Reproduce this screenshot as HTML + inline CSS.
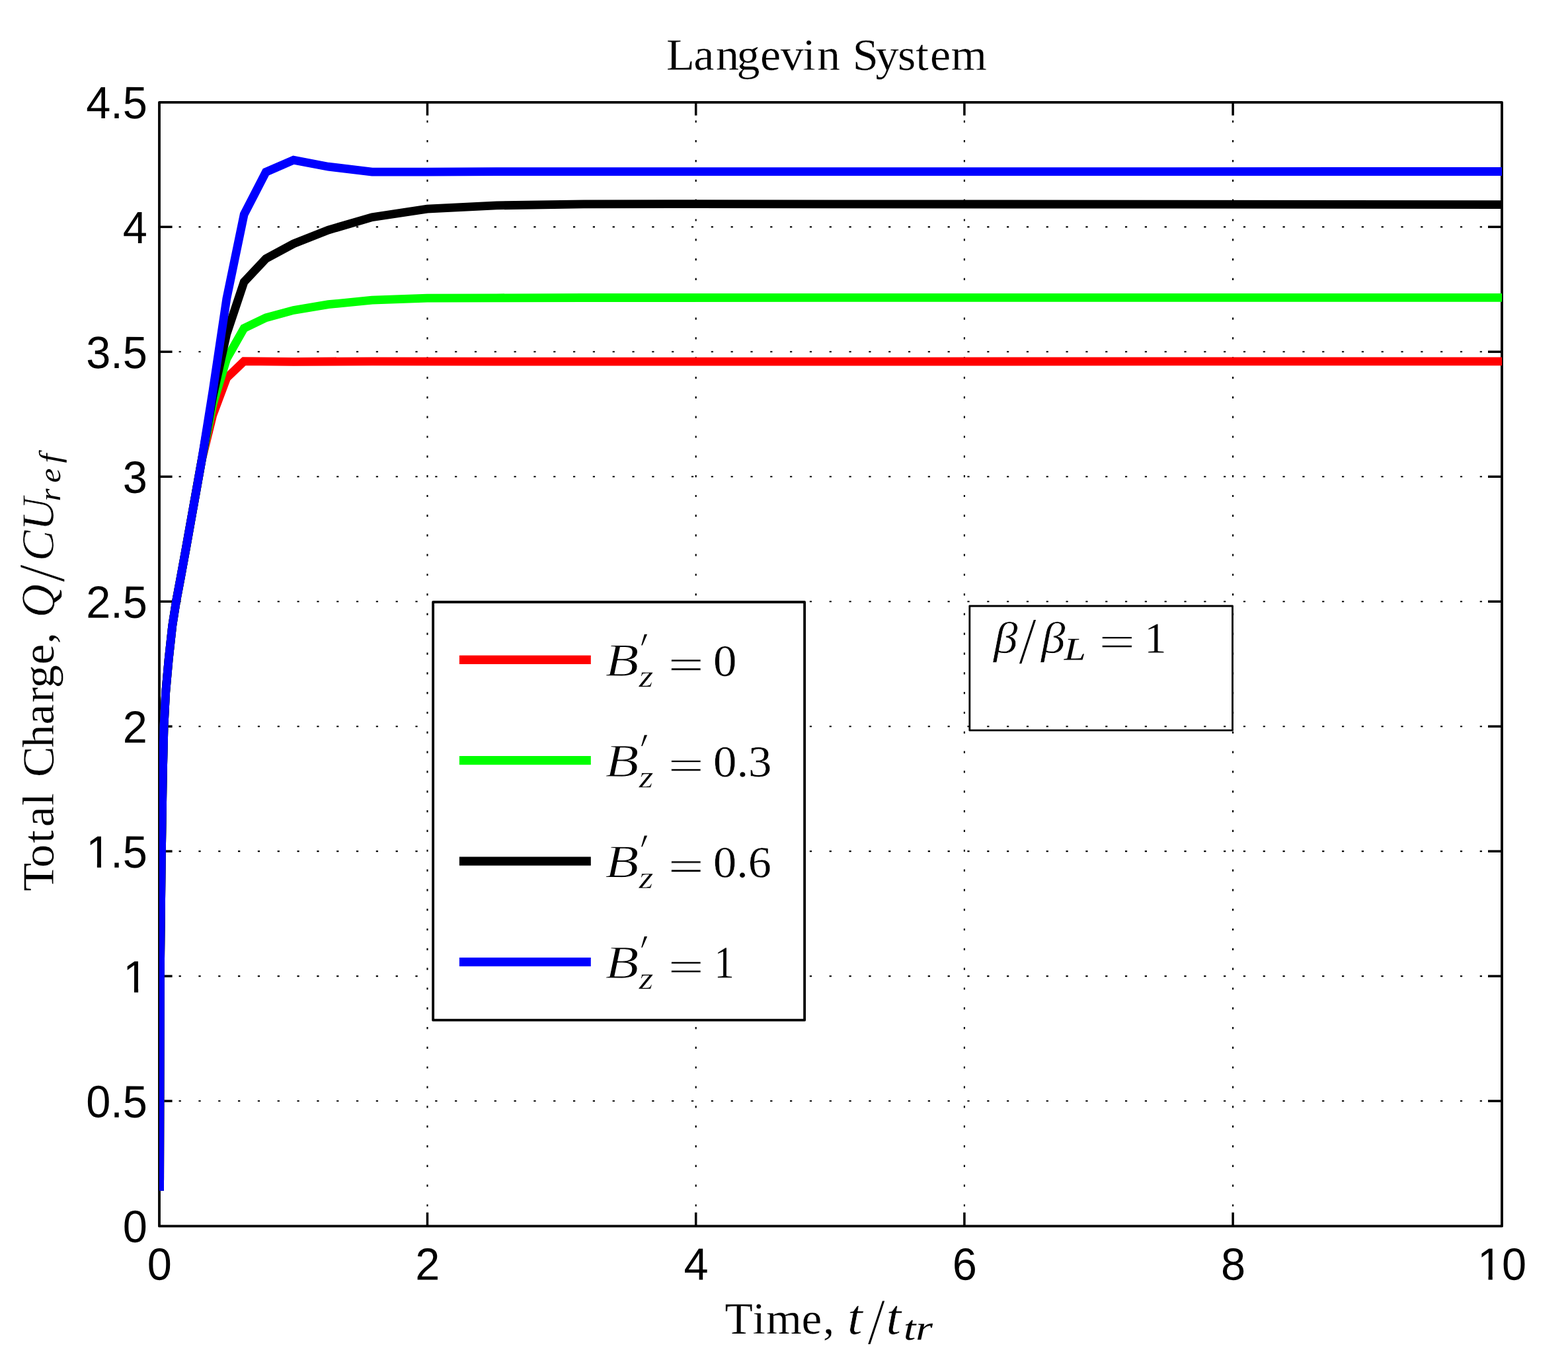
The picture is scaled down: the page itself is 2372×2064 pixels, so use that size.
<!DOCTYPE html>
<html lang="en"><head><meta charset="utf-8"><title>Langevin System</title>
<style>html,body{margin:0;padding:0;background:#fff}body{width:2372px;height:2064px;overflow:hidden}svg{display:block}text{fill:#000;font-kerning:none}</style>
</head><body>
<svg width="2372" height="2064" viewBox="0 0 2372 2064">
<rect x="0" y="0" width="2372" height="2064" fill="#fff"/>
<defs><clipPath id="ax"><rect x="241.00" y="146.80" width="2031.00" height="1716.60"/></clipPath></defs>
<g stroke="#000" stroke-width="2.10" fill="none">
<line x1="646.50" y1="182.30" x2="646.50" y2="1849.40" stroke-dasharray="3.20 26.62"/>
<line x1="1052.70" y1="182.30" x2="1052.70" y2="1849.40" stroke-dasharray="3.20 26.62"/>
<line x1="1458.90" y1="182.30" x2="1458.90" y2="1849.40" stroke-dasharray="3.20 26.62"/>
<line x1="1865.10" y1="182.30" x2="1865.10" y2="1849.40" stroke-dasharray="3.20 26.62"/>
<line x1="270.60" y1="1666.04" x2="2266.00" y2="1666.04" stroke-dasharray="3.20 26.62"/>
<line x1="270.60" y1="1477.09" x2="2266.00" y2="1477.09" stroke-dasharray="3.20 26.62"/>
<line x1="270.60" y1="1288.13" x2="2266.00" y2="1288.13" stroke-dasharray="3.20 26.62"/>
<line x1="270.60" y1="1099.18" x2="2266.00" y2="1099.18" stroke-dasharray="3.20 26.62"/>
<line x1="270.60" y1="910.22" x2="2266.00" y2="910.22" stroke-dasharray="3.20 26.62"/>
<line x1="270.60" y1="721.27" x2="2266.00" y2="721.27" stroke-dasharray="3.20 26.62"/>
<line x1="270.60" y1="532.31" x2="2266.00" y2="532.31" stroke-dasharray="3.20 26.62"/>
<line x1="270.60" y1="343.36" x2="2266.00" y2="343.36" stroke-dasharray="3.20 26.62"/>
</g>
<g stroke="#000" stroke-width="3.85" fill="none" stroke-linejoin="round">
<rect x="241.00" y="154.80" width="2031.00" height="1700.60"/>
</g>
<g stroke="#000" stroke-width="3.5" fill="none" stroke-linecap="butt">
<line x1="646.50" y1="154.80" x2="646.50" y2="174.70"/>
<line x1="646.50" y1="1855.40" x2="646.50" y2="1834.70"/>
<line x1="1052.70" y1="154.80" x2="1052.70" y2="174.70"/>
<line x1="1052.70" y1="1855.40" x2="1052.70" y2="1834.70"/>
<line x1="1458.90" y1="154.80" x2="1458.90" y2="174.70"/>
<line x1="1458.90" y1="1855.40" x2="1458.90" y2="1834.70"/>
<line x1="1865.10" y1="154.80" x2="1865.10" y2="174.70"/>
<line x1="1865.10" y1="1855.40" x2="1865.10" y2="1834.70"/>
<line x1="241.00" y1="1666.04" x2="260.60" y2="1666.04"/>
<line x1="2272.00" y1="1666.04" x2="2251.00" y2="1666.04"/>
<line x1="241.00" y1="1477.09" x2="260.60" y2="1477.09"/>
<line x1="2272.00" y1="1477.09" x2="2251.00" y2="1477.09"/>
<line x1="241.00" y1="1288.13" x2="260.60" y2="1288.13"/>
<line x1="2272.00" y1="1288.13" x2="2251.00" y2="1288.13"/>
<line x1="241.00" y1="1099.18" x2="260.60" y2="1099.18"/>
<line x1="2272.00" y1="1099.18" x2="2251.00" y2="1099.18"/>
<line x1="241.00" y1="910.22" x2="260.60" y2="910.22"/>
<line x1="2272.00" y1="910.22" x2="2251.00" y2="910.22"/>
<line x1="241.00" y1="721.27" x2="260.60" y2="721.27"/>
<line x1="2272.00" y1="721.27" x2="2251.00" y2="721.27"/>
<line x1="241.00" y1="532.31" x2="260.60" y2="532.31"/>
<line x1="2272.00" y1="532.31" x2="2251.00" y2="532.31"/>
<line x1="241.00" y1="343.36" x2="260.60" y2="343.36"/>
<line x1="2272.00" y1="343.36" x2="2251.00" y2="343.36"/>
</g>
<g clip-path="url(#ax)" fill="none" stroke-width="12.80" stroke-linejoin="miter" stroke-miterlimit="10" stroke-linecap="butt">
<polyline stroke="#ff0000" points="241.6,1801.8 242.5,1460.0 244.4,1289.0 246.3,1170.0 248.0,1099.3 250.7,1047.4 255.2,997.2 260.7,947.0 266.5,910.1 273.2,874.5 281.5,829.0 292.0,770.0 305.2,696.0 321.9,628.0 342.8,572.0 369.2,546.6 444.1,547.3 562.9,546.8 751.0,547.1 2272.0,546.9"/>
<polyline stroke="#00ff00" points="241.6,1801.8 242.5,1460.0 244.4,1289.0 246.3,1170.0 248.0,1099.3 250.7,1047.4 255.2,997.2 260.7,947.0 266.5,910.1 273.2,874.5 281.5,829.0 292.0,770.0 305.2,696.0 321.9,612.0 342.8,543.2 369.2,496.6 402.3,480.8 444.1,469.4 496.7,460.7 562.9,454.2 646.2,451.2 751.2,450.8 883.0,450.5 2272.0,450.4"/>
<polyline stroke="#000000" points="241.6,1801.8 242.5,1460.0 244.4,1289.0 246.3,1170.0 248.0,1099.3 250.7,1047.4 255.2,997.2 260.7,947.0 266.5,910.1 273.2,874.5 281.5,829.0 292.0,770.0 305.2,696.0 321.9,600.0 342.8,505.4 369.2,426.5 402.3,391.4 444.1,368.9 496.7,348.1 562.9,328.7 646.2,316.1 751.2,310.9 883.2,308.8 1049.6,308.6 1258.9,308.8 2272.0,309.6"/>
<polyline stroke="#0000ff" points="241.6,1801.8 242.5,1460.0 244.4,1289.0 246.3,1170.0 248.0,1099.3 250.7,1047.4 255.2,997.2 260.7,947.0 266.5,910.1 273.2,874.5 281.5,829.0 292.0,770.0 305.2,696.0 321.9,592.0 342.8,452.0 369.2,324.5 402.3,260.3 444.1,242.2 496.7,252.2 562.9,260.2 646.2,260.2 751.2,259.6 2272.0,259.5"/>
</g>
<defs><clipPath id="nofoot"><path clip-rule="evenodd" d="M-20 -80H140V30H-20Z M0.00 -5.98H16.62V6H0.00Z M22.81 -5.98H35.81V6H22.81Z"/></clipPath></defs>
<g font-family='"Liberation Sans", sans-serif' font-size="66.67">
<text transform="rotate(0.04 204.4 1879.6) translate(185.82 1879.60) scale(1 1.028)">0</text>
<text transform="rotate(0.04 176.6 1690.6) translate(130.22 1690.64) scale(1 1.028)">0.5</text>
<text transform="rotate(0.04 204.9 1501.7) translate(186.32 1501.69) scale(1 1.028)" clip-path="url(#nofoot)">1</text>
<text transform="rotate(0.04 176.6 1312.7) translate(130.22 1312.73) scale(1 1.028)" clip-path="url(#nofoot)">1.5</text>
<text transform="rotate(0.04 204.4 1123.8) translate(185.82 1123.78) scale(1 1.028)">2</text>
<text transform="rotate(0.04 176.6 934.8) translate(130.22 934.82) scale(1 1.028)">2.5</text>
<text transform="rotate(0.04 204.4 745.9) translate(185.82 745.87) scale(1 1.028)">3</text>
<text transform="rotate(0.04 176.6 556.9) translate(130.22 556.91) scale(1 1.028)">3.5</text>
<text transform="rotate(0.04 204.4 368.0) translate(185.82 367.96) scale(1 1.028)">4</text>
<text transform="rotate(0.04 176.6 179.0) translate(130.22 179.00) scale(1 1.028)">4.5</text>
<text transform="rotate(0.04 241.4 1936.5) translate(222.86 1936.55) scale(1 1.028)">0</text>
<text transform="rotate(0.04 646.9 1936.5) translate(628.36 1936.55) scale(1 1.028)">2</text>
<text transform="rotate(0.04 1053.1 1936.5) translate(1034.56 1936.55) scale(1 1.028)">4</text>
<text transform="rotate(0.04 1459.3 1936.5) translate(1440.76 1936.55) scale(1 1.028)">6</text>
<text transform="rotate(0.04 1865.5 1936.5) translate(1846.96 1936.55) scale(1 1.028)">8</text>
<text transform="rotate(0.04 2272.0 1936.5) translate(2234.92 1936.55) scale(1 1.028)" clip-path="url(#nofoot)">10</text>
</g>
<text transform="rotate(0.04 1250.8 105.7) translate(1009.85 105.70) scale(1.0383 1)" x="-1.82 38.04 70.36 100.83 135.03 164.58 196.96 217.82 252.65 269.53 302.95 335.36 361.64 382.46 412.81" y="0" font-family='"Liberation Serif", serif' font-size="67.50" stroke="#fff" stroke-width="0.30" stroke-linejoin="round">Langevin System</text>
<text transform="rotate(0.04 1176.3 2018.0) translate(1096.07 2018.00) scale(1.0268 1)" x="0.45 41.33 61.34 113.36 144.94" y="0" font-family='"Liberation Serif", serif' font-size="67.50" stroke="#fff" stroke-width="0.30" stroke-linejoin="round">Time,</text> <text transform="rotate(0.04 1295.9 2018.8) translate(1281.77 2018.80) scale(1.0879 1)" font-family='"Liberation Serif", serif' font-size="76.02" font-style="italic" stroke="#fff" stroke-width="0.60" stroke-linejoin="round">t</text><text transform="rotate(0.04 1325.7 2033.8) translate(1312.25 2033.77) scale(0.9631 1)" font-family='"Liberation Serif", serif' font-size="100.16" stroke="#fff" stroke-width="1.30" stroke-linejoin="round">/</text><text transform="rotate(0.04 1354.5 2018.8) translate(1340.37 2018.80) scale(1.0879 1)" font-family='"Liberation Serif", serif' font-size="76.02" font-style="italic" stroke="#fff" stroke-width="0.60" stroke-linejoin="round">t</text><text transform="rotate(0.04 1390.4 2027.3) translate(1366.90 2027.30) scale(1.2634 1)" font-family='"Liberation Serif", serif' font-size="52.22" font-style="italic">tr</text>
<text transform="rotate(0.04 80.8 1155.4) translate(80.80 1348.20) rotate(-90) scale(1.0361 1)" x="-0.25 34.18 69.93 93.46 124.47 149.40 166.28 209.05 242.87 275.00 296.15 330.51 360.91" y="0" font-family='"Liberation Serif", serif' font-size="67.50" stroke="#fff" stroke-width="0.30" stroke-linejoin="round">Total Charge,</text> <text transform="rotate(0.04 81.9 908.0) translate(81.92 934.44) rotate(-90) scale(0.9570 1)" font-family='"Liberation Serif", serif' font-size="72.67" font-style="italic" stroke="#fff" stroke-width="0.60" stroke-linejoin="round">Q</text><text transform="rotate(0.04 97.0 867.4) translate(96.97 880.95) rotate(-90) scale(0.9688 1)" font-family='"Liberation Serif", serif' font-size="100.68" stroke="#fff" stroke-width="1.30" stroke-linejoin="round">/</text><text transform="rotate(0.04 80.6 798.7) translate(80.60 846.70) rotate(-90) scale(1.0067 1)" x="-2.37 43.34" y="0" font-family='"Liberation Serif", serif' font-size="69.03" font-style="italic" stroke="#fff" stroke-width="0.60" stroke-linejoin="round">CU</text><text transform="rotate(0.04 91.1 716.6) translate(91.10 754.50) rotate(-90) scale(1.0731 1)" x="-3.77 22.34 50.37" y="0" font-family='"Liberation Serif", serif' font-size="45.97" font-style="italic">ref</text>
<rect x="655.15" y="911.00" width="561.95" height="632.70" fill="#fff" stroke="#000" stroke-width="3.8" stroke-linejoin="round"/>
<line x1="694.9" y1="998.30" x2="893.8" y2="998.30" stroke="#ff0000" stroke-width="13.20"/>
<text transform="rotate(0.04 940.5 1022.7) translate(915.53 1022.70) scale(1.1760 1)" font-family='"Liberation Serif", serif' font-size="70.86" font-style="italic" stroke="#fff" stroke-width="1.00" stroke-linejoin="round">B</text><text transform="rotate(0.04 974.5 1006.5) translate(961.39 1006.54) skewX(-12.0) scale(0.6319 1)" font-family='"Liberation Serif", serif' font-size="71.53">′</text><text transform="rotate(0.04 976.7 1039.2) translate(966.39 1039.25) scale(1.1746 1)" font-family='"Liberation Serif", serif' font-size="48.15" font-style="italic" stroke="#fff" stroke-width="0.50" stroke-linejoin="round">z</text> <text transform="rotate(0.04 1037.8 1027.9) translate(1010.57 1027.86) scale(1.4737 1)" font-family='"Liberation Serif", serif' font-size="65.40" stroke="#fff" stroke-width="0.65" stroke-linejoin="round">=</text> <text transform="rotate(0.04 1096.8 1022.8) translate(1079.05 1022.79) scale(1.0498 1)" font-family='"Liberation Serif", serif' font-size="67.43" stroke="#fff" stroke-width="0.30" stroke-linejoin="round">0</text>
<line x1="694.9" y1="1150.72" x2="893.8" y2="1150.72" stroke="#00ff00" stroke-width="13.20"/>
<text transform="rotate(0.04 940.5 1175.1) translate(915.53 1175.12) scale(1.1760 1)" font-family='"Liberation Serif", serif' font-size="70.86" font-style="italic" stroke="#fff" stroke-width="1.00" stroke-linejoin="round">B</text><text transform="rotate(0.04 974.5 1159.0) translate(961.39 1158.96) skewX(-12.0) scale(0.6319 1)" font-family='"Liberation Serif", serif' font-size="71.53">′</text><text transform="rotate(0.04 976.7 1191.7) translate(966.39 1191.67) scale(1.1746 1)" font-family='"Liberation Serif", serif' font-size="48.15" font-style="italic" stroke="#fff" stroke-width="0.50" stroke-linejoin="round">z</text> <text transform="rotate(0.04 1037.8 1180.3) translate(1010.57 1180.28) scale(1.4737 1)" font-family='"Liberation Serif", serif' font-size="65.40" stroke="#fff" stroke-width="0.65" stroke-linejoin="round">=</text> <text transform="rotate(0.04 1123.2 1174.9) translate(1079.06 1174.92) scale(1.0551 1)" font-family='"Liberation Serif", serif' font-size="66.99" stroke="#fff" stroke-width="0.30" stroke-linejoin="round">0.3</text>
<line x1="694.9" y1="1303.14" x2="893.8" y2="1303.14" stroke="#000000" stroke-width="13.20"/>
<text transform="rotate(0.04 940.5 1327.5) translate(915.53 1327.54) scale(1.1760 1)" font-family='"Liberation Serif", serif' font-size="70.86" font-style="italic" stroke="#fff" stroke-width="1.00" stroke-linejoin="round">B</text><text transform="rotate(0.04 974.5 1311.4) translate(961.39 1311.38) skewX(-12.0) scale(0.6319 1)" font-family='"Liberation Serif", serif' font-size="71.53">′</text><text transform="rotate(0.04 976.7 1344.1) translate(966.39 1344.09) scale(1.1746 1)" font-family='"Liberation Serif", serif' font-size="48.15" font-style="italic" stroke="#fff" stroke-width="0.50" stroke-linejoin="round">z</text> <text transform="rotate(0.04 1037.8 1332.7) translate(1010.57 1332.70) scale(1.4737 1)" font-family='"Liberation Serif", serif' font-size="65.40" stroke="#fff" stroke-width="0.65" stroke-linejoin="round">=</text> <text transform="rotate(0.04 1123.2 1327.3) translate(1079.08 1327.34) scale(1.0468 1)" font-family='"Liberation Serif", serif' font-size="66.99" stroke="#fff" stroke-width="0.30" stroke-linejoin="round">0.6</text>
<line x1="694.9" y1="1455.56" x2="893.8" y2="1455.56" stroke="#0000ff" stroke-width="13.20"/>
<text transform="rotate(0.04 940.5 1480.0) translate(915.53 1479.96) scale(1.1760 1)" font-family='"Liberation Serif", serif' font-size="70.86" font-style="italic" stroke="#fff" stroke-width="1.00" stroke-linejoin="round">B</text><text transform="rotate(0.04 974.5 1463.8) translate(961.39 1463.80) skewX(-12.0) scale(0.6319 1)" font-family='"Liberation Serif", serif' font-size="71.53">′</text><text transform="rotate(0.04 976.7 1496.5) translate(966.39 1496.51) scale(1.1746 1)" font-family='"Liberation Serif", serif' font-size="48.15" font-style="italic" stroke="#fff" stroke-width="0.50" stroke-linejoin="round">z</text> <text transform="rotate(0.04 1037.8 1485.1) translate(1010.57 1485.12) scale(1.4737 1)" font-family='"Liberation Serif", serif' font-size="65.40" stroke="#fff" stroke-width="0.65" stroke-linejoin="round">=</text> <text transform="rotate(0.04 1096.5 1479.6) translate(1080.53 1479.61) scale(0.8778 1)" font-family='"Liberation Serif", serif' font-size="68.92" stroke="#fff" stroke-width="0.30" stroke-linejoin="round">1</text>
<rect x="1466.8" y="917.0" width="397.70" height="188.20" fill="none" stroke="#000" stroke-width="2.8" stroke-linejoin="round"/>
<text transform="rotate(0.04 1520.5 987.9) translate(1502.98 987.90) scale(1.0888 1)" font-family='"Liberation Serif", serif' font-size="67.18" font-style="italic" stroke="#fff" stroke-width="0.60" stroke-linejoin="round">β</text><text transform="rotate(0.04 1554.5 1004.1) translate(1541.05 1004.06) scale(0.9567 1)" font-family='"Liberation Serif", serif' font-size="101.20" stroke="#fff" stroke-width="1.30" stroke-linejoin="round">/</text><text transform="rotate(0.04 1592.5 987.9) translate(1574.88 987.90) scale(1.0888 1)" font-family='"Liberation Serif", serif' font-size="67.18" font-style="italic" stroke="#fff" stroke-width="0.60" stroke-linejoin="round">β</text><text transform="rotate(0.04 1624.5 998.4) translate(1609.80 998.40) scale(1.2224 1)" font-family='"Liberation Serif", serif' font-size="48.57" font-style="italic">L</text> <text transform="rotate(0.04 1689.8 993.3) translate(1662.22 993.26) scale(1.4902 1)" font-family='"Liberation Serif", serif' font-size="65.40" stroke="#fff" stroke-width="0.65" stroke-linejoin="round">=</text> <text transform="rotate(0.04 1748.8 987.8) translate(1731.01 987.75) scale(1.0236 1)" font-family='"Liberation Serif", serif' font-size="66.04" stroke="#fff" stroke-width="0.30" stroke-linejoin="round">1</text>
</svg>
</body></html>
